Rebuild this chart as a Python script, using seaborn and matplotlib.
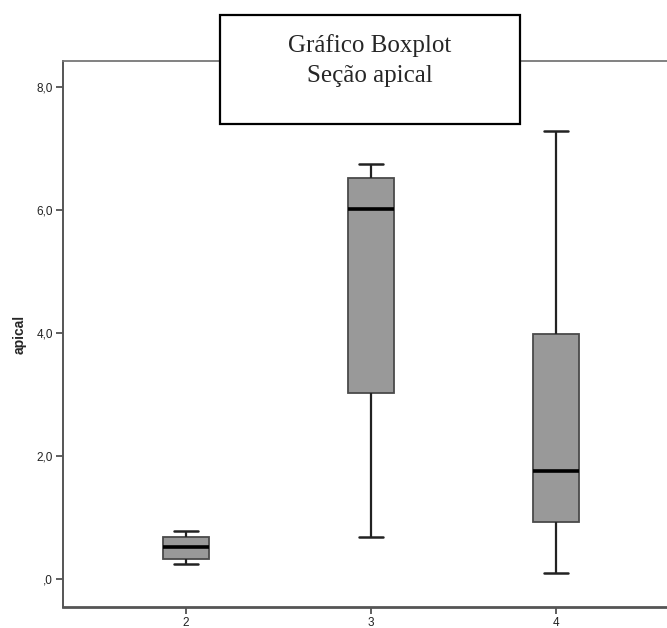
import matplotlib
matplotlib.use("Agg")
import matplotlib.pyplot as plt
from matplotlib.patches import Rectangle
import seaborn as sns
import pandas as pd

# five-number summaries (min, Q1, median, Q3, max)
groups = ["2", "3", "4"]
group_2 = [0.24, 0.33, 0.52, 0.68, 0.78]
group_3 = [0.68, 3.02, 6.01, 6.52, 6.75]
group_4 = [0.10, 0.93, 1.76, 3.98, 7.28]
y_ticks = [0, 2, 4, 6, 8]
y_tick_labels = [",0", "2,0", "4,0", "6,0", "8,0"]

df = pd.DataFrame({
    "grupo": ["2"] * len(group_2) + ["3"] * len(group_3) + ["4"] * len(group_4),
    "apical": group_2 + group_3 + group_4,
})

sns.set_style("white")
plt.rcParams["font.family"] = ["Liberation Sans", "DejaVu Sans"]

fig = plt.figure(figsize=(6.67, 6.28), dpi=100)
ax = fig.add_axes([63 / 667, 1 - 607 / 628, 1 - 63 / 667, (607 - 61) / 628])

sns.boxplot(data=df, x="grupo", y="apical", order=groups, ax=ax,
            color="#999999", saturation=1, width=0.25, whis=(0, 100),
            linecolor="#4a4a4a", linewidth=1.3,
            medianprops=dict(color="black", linewidth=2.6),
            whiskerprops=dict(color="#222222", linewidth=1.6),
            capprops=dict(color="#222222", linewidth=1.8))

ax.set_xlim(-0.665, 2.6)
ax.set_ylim(-0.455, 8.42)
ax.set_yticks(y_ticks)
ax.set_yticklabels(y_tick_labels)
ax.set_xlabel("")
ax.set_ylabel("apical", fontsize=10, fontweight="bold")
ax.yaxis.set_label_coords(-0.06, 0.5)
ax.tick_params(axis="both", direction="out", length=5, width=1.2,
               color="#444444", labelsize=8.5, labelcolor="#222222", pad=2,
               left=True, bottom=True)

for side in ["left", "bottom"]:
    ax.spines[side].set_color("#555555")
ax.spines["left"].set_linewidth(1.4)
ax.spines["bottom"].set_linewidth(2.0)
ax.spines["top"].set_color("#777777")
ax.spines["top"].set_linewidth(1.3)
ax.spines["right"].set_visible(False)

# title box drawn over the top spine
fig.patches.append(Rectangle((220 / 667, 1 - 124 / 628), 300 / 667, 109 / 628,
                             transform=fig.transFigure, facecolor="white",
                             edgecolor="black", linewidth=1.6, zorder=5))
fig.text(370 / 667, 1 - 46 / 628, "Gráfico Boxplot", ha="center", va="center",
         family="Liberation Serif", fontsize=18, zorder=6)
fig.text(370 / 667, 1 - 76 / 628, "Seção apical", ha="center", va="center",
         family="Liberation Serif", fontsize=18, zorder=6)

fig.savefig("out.png", dpi=100)
